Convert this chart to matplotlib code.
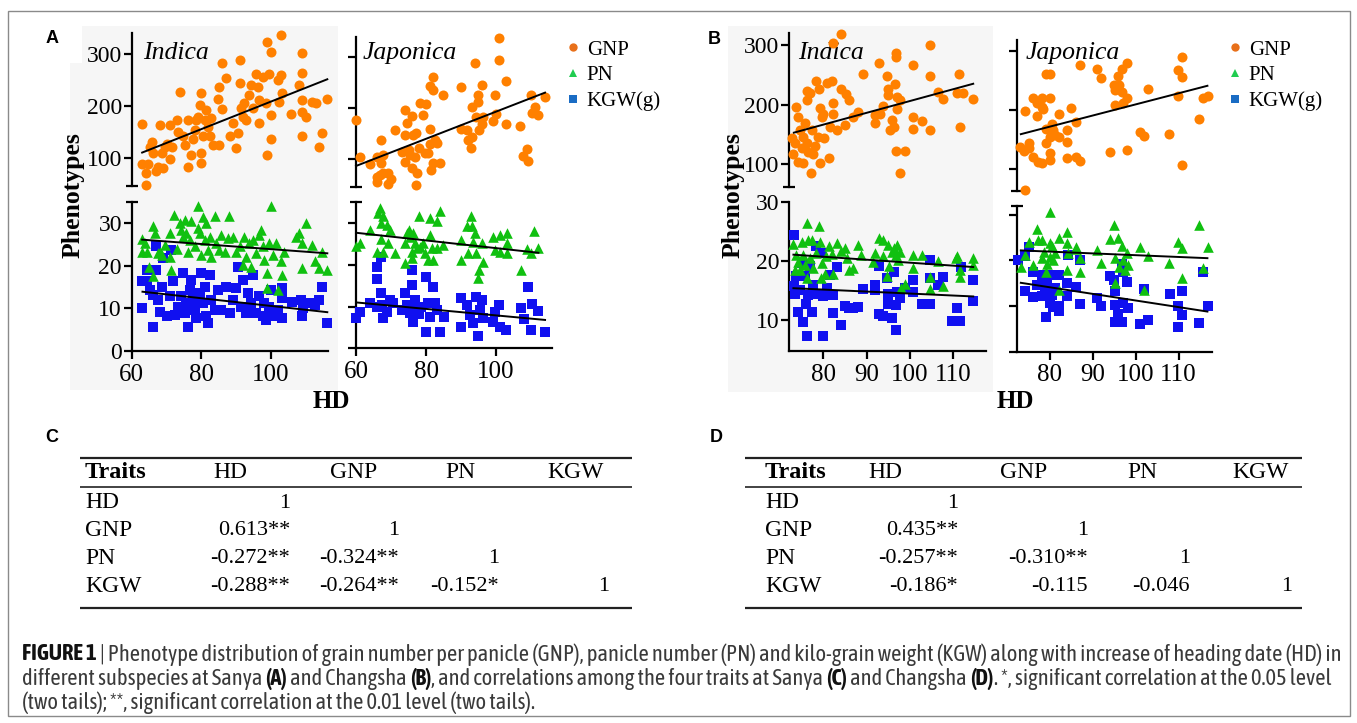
import matplotlib
matplotlib.use("Agg")
import matplotlib.pyplot as plt
import numpy as np
from matplotlib import font_manager
from matplotlib.patches import Rectangle
from matplotlib.lines import Line2D

plt.rcParams['font.family'] = 'Liberation Serif'

##############################################################################
# data (HD, value)
##############################################################################

# panel A (Sanya), indica
a_ind_gnp = [(63, 166), (63, 89), (64, 49), (64, 72), (64.8, 89), (65.7, 132), (65.2, 122), (66, 110),
             (67.1, 76), (67.6, 84), (68.1, 164), (68.6, 110), (69.5, 122), (69, 81), (70, 128), (71, 164),
             (71, 98), (71.7, 122), (72.9, 174), (73.8, 228), (73.3, 151), (74.8, 142), (75.2, 126),
             (76.2, 174), (76.2, 84), (77.1, 106), (77.6, 138), (78.1, 154), (78.6, 174), (79, 180),
             (79.5, 203), (80, 225), (80, 110), (80, 90), (80.5, 142), (81, 174), (81.4, 193), (81.9, 161),
             (82.4, 142), (82.9, 177), (83.3, 126), (84.8, 215), (85.2, 238), (85.2, 126), (86, 284),
             (86, 194), (87.1, 254), (88.1, 142), (89, 167), (90, 119), (90.5, 148), (91, 289), (91, 244),
             (91.4, 196), (91.9, 180), (92.4, 206), (92.9, 174), (93.8, 222), (94.3, 241), (94.8, 196),
             (95.7, 263), (96.2, 238), (96.7, 212), (96.7, 167), (97.6, 257), (98.6, 206), (98.8, 106),
             (99, 324), (99.5, 263), (100, 304), (100, 183), (100, 138), (101.9, 251), (102.4, 209),
             (103, 337), (103, 260), (103.3, 225), (105.7, 186), (108, 241), (108.8, 302), (109, 265),
             (109, 212), (109, 190), (109, 143), (110, 180), (111.9, 209), (112.9, 206), (113.8, 122),
             (114.8, 148), (116, 214)]
a_ind_pn = [(63, 26.2), (63, 23.3), (63.8, 25.3), (64.3, 23.3), (65, 19.6), (66, 29.3), (66, 17.6),
            (66.7, 27.6), (67.6, 22.9), (68.1, 23.3), (68.6, 22.5), (69.5, 24.9), (71, 27.6), (71.1, 22.1),
            (71.4, 19), (72.1, 31.9), (72.9, 23.9), (73.8, 30), (74.3, 28.4), (74.8, 26.8), (75.2, 30.6),
            (75.7, 27.6), (76.2, 23.3), (76.7, 26.1), (77.1, 30.4), (78.1, 24.5), (79, 33.9), (79, 28.8),
            (79.5, 27.6), (80, 22.5), (80.5, 31.5), (81, 26.1), (81.4, 30), (81.9, 23.7), (82.4, 26.8),
            (82.9, 22.1), (83.8, 31.7), (84.3, 25.3), (85.2, 23.7), (85.7, 27.2), (86.7, 23.3), (87.6, 26.4),
            (87.9, 31.7), (89, 26.8), (90, 23.3), (91, 24.5), (91.9, 20.2), (92.4, 26.8), (92.9, 22.1),
            (93.8, 25.3), (94.3, 19.8), (94.8, 26.1), (95.7, 22.9), (96.7, 27.2), (97.1, 28.4), (97.6, 24.5),
            (98.1, 21.4), (98.8, 18.2), (99, 14.7), (99.5, 25.3), (100, 33.9), (100.5, 22.5), (101.4, 25.3),
            (101.9, 14.3), (102.9, 21), (103.1, 17.8), (103.8, 23.3), (107.1, 26.8), (108, 27.6), (109, 25.3),
            (109, 19.4), (110, 30), (111.9, 24.9), (112.7, 21), (113.8, 19.4), (114.8, 23.3), (116, 19)]
a_ind_kgw = [(63.1, 10), (63, 16.3), (64.3, 16.3), (64.3, 19), (65.2, 14.3), (66.2, 13.1), (66.2, 5.6),
             (67.1, 24.5), (67.1, 19), (67.6, 12), (68.1, 9.2), (68.6, 15.1), (69, 21.8), (70, 8.1), (71, 12.8),
             (71.4, 23.7), (71.9, 16.3), (72.4, 8.5), (73.3, 10.4), (74.3, 12.8), (74.8, 18.2), (75.2, 8.8),
             (75.7, 11.2), (76.2, 5.7), (76.7, 14.3), (77.1, 16.7), (77.6, 12), (78.1, 9.6), (78.6, 7.7),
             (79.5, 13.5), (80, 18.2), (80.5, 11.2), (81, 15.1), (81.4, 8.1), (81.9, 6.5), (82.4, 17.8),
             (82.9, 12), (83.8, 9.6), (84.8, 14.3), (85.7, 9.6), (87.1, 15.1), (88.1, 8.8), (89, 12),
             (90, 14.7), (90.5, 19.8), (91.4, 10.4), (91.9, 16.7), (92.9, 8.8), (93.3, 13.5), (94.3, 11.2),
             (94.8, 17.8), (95.7, 8.8), (96.7, 12.8), (97.6, 8.1), (98.1, 11.2), (98.6, 7.3), (99.5, 10.4),
             (100, 14.3), (100.5, 8.1), (101.9, 9.6), (103.1, 12.4), (103.1, 14.7), (103.3, 7.7), (106.2, 11.6),
             (108.6, 12), (109, 8.1), (109.2, 10), (110.9, 11.2), (112.7, 10.8), (113.8, 12), (114.8, 15.1),
             (116, 6.5)]

# panel A (Sanya), japonica
a_jap_gnp = [(60, 176), (61.1, 105), (64, 91), (65.9, 105), (65.9, 66), (65.9, 56), (67, 138), (67, 92),
             (67.8, 109), (66.9, 69), (67.8, 73), (69.2, 73), (69.2, 52), (70.1, 61), (71.1, 158), (73, 115),
             (74, 197), (74, 147), (74, 95), (74.5, 170), (75, 118), (75.4, 109), (75.9, 184), (75.9, 83),
             (76.4, 147), (76.9, 105), (77.1, 151), (77.1, 50), (77.3, 73), (78.1, 123), (78.3, 209),
             (79, 187), (79.7, 112), (80, 208), (80.7, 113), (81, 160), (81.1, 130), (81.3, 79), (81, 242),
             (82.1, 260), (82.1, 235), (82.1, 92), (82.6, 138), (83, 131), (84, 92), (84.9, 226), (89.9, 240),
             (90.1, 160), (91.8, 157), (92.1, 138), (92.8, 123), (93, 201), (93, 144), (94, 288), (94.4, 182),
             (94.9, 212), (94.9, 225), (95.2, 158), (95.9, 245), (95.9, 169), (96.2, 182), (99, 175),
             (99.7, 225), (100.1, 188), (100.9, 294), (100.9, 336), (102.9, 253), (102.9, 169), (106.9, 164),
             (107.6, 106), (108.8, 121), (109, 97), (110, 225), (110.2, 191), (111.1, 201), (112.1, 186),
             (114, 222)]
a_jap_pn = [(60, 24.5), (61, 25.3), (64, 28.4), (65.9, 23.2), (66.4, 32.4), (66.9, 33.6), (67, 30), (67, 26.1),
            (67.6, 23.2), (67.8, 31.7), (68.8, 29.6), (69.2, 25.2), (69.7, 28.4), (71.1, 22.9), (74, 20.4),
            (74, 25.2), (74.5, 27.6), (75, 28.4), (75.4, 26.8), (75.9, 23.2), (75.9, 21.6), (76.4, 27.6),
            (76.9, 25.2), (77.3, 24), (78.1, 31.7), (78.3, 24.4), (79.2, 25.2), (79.7, 22.8), (80.7, 21.2),
            (81, 31.2), (81, 27.2), (81.6, 24), (81.9, 21.2), (83, 30.4), (83, 24), (84, 33), (84.9, 24.8),
            (89.9, 26), (89.9, 21.2), (91.6, 29.2), (92.1, 22.8), (92.8, 31.6), (93, 29.2), (93.5, 25.6),
            (94, 27.6), (94.4, 22.8), (94.9, 16.8), (95.2, 18.8), (95.9, 25.2), (96.2, 20.8), (99, 26.8),
            (99.7, 23.6), (101.1, 27.2), (101.1, 23.2), (103, 27.6), (103, 25.2), (103, 22.8), (107, 18.8),
            (108.8, 23.7), (110, 22.8), (110.9, 28.2), (112.1, 24)]
a_jap_kgw = [(60, 7.2), (61, 8.8), (64, 10.8), (65.9, 10), (65.9, 19.6), (66.1, 16.5), (67, 22), (67, 13.2),
             (67.3, 10.4), (67.8, 7.2), (68.8, 8.8), (69.7, 11.6), (70.7, 10.8), (73, 9.2), (74, 13.2),
             (74.5, 10.4), (75.4, 8.4), (75.9, 18.8), (75.9, 15.2), (76.4, 6.4), (76.9, 11.6), (77.3, 9.2),
             (78.1, 8.2), (78.7, 10), (80, 17), (80, 4), (80.7, 10.8), (81.1, 7.6), (82.1, 14.8), (82.6, 10.8),
             (83, 9.2), (84, 4), (85.1, 7.6), (89.9, 12), (89.9, 5.2), (91.6, 10.4), (92.6, 8), (93.5, 6),
             (94.4, 12.4), (94.9, 3), (95.4, 9.2), (95.9, 11.6), (96.2, 7.2), (99, 6.2), (99.7, 8.8),
             (100.9, 10.4), (101.1, 5.2), (102.9, 4.4), (107, 9.6), (108, 7), (109, 14.8), (110, 4.4),
             (110.2, 10.6), (112.1, 9), (114, 4)]

# panel B (Changsha), indica
b_ind_gnp = [(72.7, 144), (73.1, 118), (73.5, 135), (73.8, 196), (74.2, 180), (74.2, 104), (74.6, 158),
             (75, 127), (75.4, 146), (75.4, 102), (75.8, 169), (76.2, 223), (76.2, 208), (76.2, 135),
             (76.5, 121), (76.9, 220), (77.1, 86), (77.3, 158), (77.7, 118), (78.1, 130), (78.3, 239),
             (78.8, 146), (79.1, 227), (79.2, 194), (79.2, 102), (79.6, 180), (80, 185), (80.2, 144),
             (80.8, 236), (81.2, 110), (81.5, 163), (81.9, 239), (82.2, 202), (82.2, 185), (82.3, 303),
             (83.1, 158), (84, 318), (84, 227), (85, 166), (85.2, 218), (86, 208), (86.9, 179), (88.1, 187),
             (89.1, 251), (91.9, 183), (91.9, 169), (92.9, 269), (93.1, 185), (93.8, 197), (94.8, 248),
             (95, 227), (95, 216), (95.4, 158), (95.8, 174), (96.2, 163), (96.5, 235), (96.8, 286),
             (96.8, 280), (96.8, 123), (96.9, 213), (96.9, 192), (97.7, 86), (97.8, 208), (98.8, 123),
             (100.8, 266), (100.8, 180), (100.8, 159), (102.7, 172), (104.6, 300), (104.6, 248), (104.6, 158),
             (106.5, 222), (107.7, 209), (110.8, 220), (111.4, 251), (111.5, 163), (112.3, 220), (114.5, 209)]
b_ind_pn = [(73.1, 22.9), (73.5, 18.5), (73.8, 21.1), (74.2, 19.9), (74.6, 18.5), (75, 23.3), (75.4, 21.1),
            (75.8, 19.4), (76.2, 26.4), (76.2, 17.1), (76.5, 23.6), (76.9, 20.5), (77.3, 23.6), (77.7, 18.8),
            (78.3, 21.3), (79.1, 25.9), (79.2, 23.3), (79.4, 17.1), (79.8, 19.6), (80.4, 17.9), (80.6, 20.9),
            (81.2, 22.5), (81.9, 21.2), (82.3, 17.9), (83.1, 23), (84, 21.8), (85, 22.2), (85.4, 20.5),
            (86, 18.5), (86.9, 18.8), (87.9, 22.8), (88.8, 21.1), (91.5, 19.9), (91.9, 21.3), (92.9, 23.9),
            (93.8, 23.6), (93.8, 20.8), (94.8, 17.4), (95, 22.8), (95.2, 19.1), (95.8, 21.6), (96.3, 22.2),
            (96.8, 21.1), (96.9, 22.8), (97.3, 20.2), (97.7, 21.6), (97.9, 15.4), (98.8, 16.2), (100.8, 21.1),
            (100.8, 18.8), (102.7, 21.1), (104.6, 17.3), (104.6, 15.2), (106.5, 20.1), (107.7, 15.7),
            (110.6, 20.5), (110.8, 20.9), (111.5, 17.3), (111.5, 18.5), (114.5, 20.5), (114.5, 19.4)]
b_ind_kgw = [(73.2, 24.5), (73.2, 15.7), (73.5, 14.5), (73.7, 17.4), (74.2, 11.4), (74.6, 15.1), (75, 19.6),
             (75.4, 9.7), (75.8, 17.4), (76, 12.8), (76.2, 7.3), (76.5, 14.3), (76.9, 19.1), (77.3, 11.4),
             (77.7, 16), (78.3, 22.5), (78.8, 14.5), (79.4, 21.3), (80, 14), (80, 7.2), (80.8, 15.4),
             (81.5, 17.7), (82.2, 14.3), (82.2, 11.2), (83.1, 19), (84, 9.1), (85, 12.4), (86, 12), (86.9, 12),
             (88.1, 12.2), (89.1, 15.2), (91.9, 16), (91.9, 15.1), (92.9, 11), (93.8, 10.6), (92.9, 19.2),
             (94.8, 17.1), (95, 12.8), (95, 14.5), (95.8, 10.3), (96.2, 18.2), (96.8, 12.6), (96.8, 8.3),
             (96.9, 14.8), (97.8, 13.7), (98.8, 15.4), (100.8, 16.8), (100.8, 14.8), (102.7, 12.8),
             (104.6, 20.2), (104.6, 12.8), (104.6, 17.1), (106.5, 16), (107.7, 17.3), (109.6, 9.9), (110.8, 12),
             (111.5, 9.9), (111.7, 19), (114.5, 16.8), (114.5, 13.2)]

# panel B (Changsha), japonica
b_jap_gnp = [(73, 138), (73.9, 131), (74.2, 199), (74.2, 64), (75.2, 144), (75.2, 135), (76.1, 221),
             (76.1, 120), (77, 211), (77, 189), (77.3, 112), (78.1, 221), (78.1, 205), (78.1, 110), (78.3, 201),
             (79.1, 261), (79.1, 167), (79.1, 144), (80, 261), (80, 220), (80, 166), (80, 154), (80, 127),
             (80, 115), (80.4, 177), (80.8, 166), (81.2, 158), (82.2, 193), (82.2, 155), (83.9, 166),
             (83.9, 146), (83.9, 118), (85, 203), (86.1, 180), (86.1, 121), (87, 276), (87, 114), (90.9, 269),
             (92, 254), (94, 128), (94.9, 242), (95.2, 234), (95.2, 208), (95.9, 258), (96.2, 242), (96.7, 269),
             (96.9, 231), (97.1, 212), (97.9, 279), (97.9, 220), (97.9, 133), (101, 163), (101.9, 156),
             (102.9, 236), (107.8, 160), (109.9, 268), (109.9, 224), (110.7, 290), (110.8, 256), (110.8, 107),
             (114.8, 184), (115.7, 221), (116.9, 223)]
b_jap_pn = [(73.2, 18.6), (74.2, 21.2), (75.2, 24.1), (76.1, 19), (77, 26.8), (77.3, 24.5), (78.1, 24.5),
            (78.1, 20.5), (78.5, 21.9), (79.1, 17.5), (79.2, 19.2), (80, 30.7), (80, 23.8), (80, 20.8),
            (80.4, 23.2), (80.8, 20.1), (81.2, 21.6), (82.2, 24.9), (82.2, 13.5), (83.9, 26.3), (83.9, 23.8),
            (83.9, 17.9), (84.3, 21.6), (86.1, 23), (86.1, 22.5), (87, 17.5), (87, 20.5), (90.9, 22.3),
            (92, 19.5), (94, 24.7), (94.9, 27.8), (95.2, 20.5), (95.2, 15.1), (95.9, 24.9), (96.2, 18.6),
            (96.9, 23.2), (97.1, 20), (97.5, 17.9), (97.9, 21.6), (98.3, 19), (101, 23), (101.9, 13.5),
            (102.9, 21), (107.8, 19.4), (109.9, 24.1), (110.8, 22.7), (110.8, 16.1), (114.8, 27.8),
            (115.7, 18.3), (116.9, 22.9)]
b_jap_kgw = [(72.6, 20), (74.2, 21), (74.2, 13.4), (75.2, 22.9), (76.1, 17.5), (76.1, 11.9), (77, 14.6),
             (78.1, 16.8), (78.1, 12.2), (78.8, 13.5), (79.1, 7.5), (79.4, 15.3), (80, 16.8), (80, 10.6),
             (80.4, 12.4), (80.8, 9.9), (81.2, 13.9), (82, 10), (82.2, 16.8), (82.2, 9), (83.9, 15),
             (83.9, 12.2), (84.3, 21.2), (86.1, 14.1), (87, 20), (87, 10.4), (90.9, 11.7), (92, 10), (94, 16.6),
             (94.9, 15.7), (95.2, 13.2), (95.2, 10.2), (95.2, 6.6), (95.9, 8.2), (96.7, 6.6), (96.9, 19.2),
             (97.1, 17.5), (97.1, 10.7), (97.9, 15.3), (98.1, 9.5), (101, 6), (101.9, 13.7), (102.9, 6.9),
             (108, 12.6), (109.9, 10), (109.9, 5.5), (110.8, 13.2), (110.8, 8), (114.8, 6.3), (115.7, 17.5),
             (116.9, 10)]

# linear trend lines: (HD start, HD end), (value start, value end)
a_ind_fit = {'gnp': ((63, 116.2), (111, 252)), 'pn': ((63, 116.2), (26.1, 22.9)), 'kgw': ((63.1, 116.2), (13.9, 9.1))}
a_jap_fit = {'gnp': ((60, 114), (87, 230)), 'pn': ((60, 112.1), (27.7, 22.9)), 'kgw': ((60, 114), (11, 6.8))}
b_ind_fit = {'gnp': ((73.2, 114.6), (153, 235)), 'pn': ((73.1, 114.6), (21.1, 19)), 'kgw': ((73.1, 114.6), (15.4, 14))}
b_jap_fit = {'gnp': ((73.2, 116.7), (159, 241)), 'pn': ((73.2, 116.7), (22.2, 20.5)), 'kgw': ((73.2, 116.7), (15.1, 8.8))}

series_names = ['GNP', 'PN', 'KGW(g)']

# correlation tables
table_cols = ['Traits', 'HD', 'GNP', 'PN', 'KGW']
table_rows = ['HD', 'GNP', 'PN', 'KGW']
corr_sanya = [['1', '', '', ''],
              ['0.613**', '1', '', ''],
              ['-0.272**', '-0.324**', '1', ''],
              ['-0.288**', '-0.264**', '-0.152*', '1']]
corr_changsha = [['1', '', '', ''],
                 ['0.435**', '1', '', ''],
                 ['-0.257**', '-0.310**', '1', ''],
                 ['-0.186*', '-0.115', '-0.046', '1']]

caption_lines = [
    [("FIGURE 1", True), (" | Phenotype distribution of grain number per panicle (GNP), panicle number (PN) and "
                          "kilo-grain weight (KGW) along with increase of heading date (HD) in", False)],
    [("different subspecies at Sanya ", False), ("(A)", True), (" and Changsha ", False), ("(B)", True),
     (", and correlations among the four traits at Sanya ", False), ("(C)", True), (" and Changsha ", False),
     ("(D)", True), (". *, significant correlation at the 0.05 level", False)],
    [("(two tails); **, significant correlation at the 0.01 level (two tails).", False)],
]

##############################################################################
# figure
##############################################################################

W, H = 1357, 723
fig = plt.figure(figsize=(W / 100, H / 100), dpi=100)
bg = fig.add_axes([0, 0, 1, 1], zorder=0)
bg.set_xlim(0, W)
bg.set_ylim(H, 0)
bg.axis('off')

ORANGE, GREEN, BLUE = '#ff8000', '#10c010', '#1010f0'
SANS = 'Liberation Sans'

# frame and grey plot backgrounds
bg.add_patch(Rectangle((7.5, 10.5), 1342, 705.5, fill=False, ec='#8a8a8a', lw=1))
bg.add_patch(Rectangle((82, 26), 256, 364, fc='#f6f6f6', ec='none'))
bg.add_patch(Rectangle((70, 63), 12, 327, fc='#f6f6f6', ec='none'))
bg.add_patch(Rectangle((728, 26), 265, 366, fc='#f6f6f6', ec='none'))


def px_axes(l, r, t, b):
    ax = fig.add_axes([l / W, 1 - b / H, (r - l) / W, (b - t) / H], zorder=2)
    ax.patch.set_alpha(0)
    for s in ['top', 'right']:
        ax.spines[s].set_visible(False)
    for s in ['left', 'bottom']:
        ax.spines[s].set_linewidth(1.6)
    ax.tick_params(direction='out', length=6, width=1.6, pad=1, labelsize=17)
    return ax


def scatter_panel(box_top, box_bot, xlim, ylim_top, ylim_bot, yt_top, yt_bot, xt,
                  gnp, pn, kgw, fit, labels):
    top = px_axes(*box_top)
    bot = px_axes(*box_bot)
    top.set_xlim(*xlim)
    bot.set_xlim(*xlim)
    top.set_ylim(*ylim_top)
    bot.set_ylim(*ylim_bot)

    g = np.array(gnp).T
    p = np.array(pn).T
    k = np.array(kgw).T
    top.scatter(g[0], g[1], s=52, marker='o', color=ORANGE, lw=0, clip_on=False, zorder=3)
    bot.scatter(k[0], k[1], s=48, marker='s', color=BLUE, lw=0, clip_on=False, zorder=3)
    bot.scatter(p[0], p[1], s=58, marker='^', color=GREEN, lw=0, clip_on=False, zorder=4)
    top.plot(*fit['gnp'], color='k', lw=1.4, zorder=5, clip_on=False)
    bot.plot(*fit['pn'], color='k', lw=1.4, zorder=5, clip_on=False)
    bot.plot(*fit['kgw'], color='k', lw=1.4, zorder=5, clip_on=False)

    top.spines['bottom'].set_visible(False)
    top.set_xticks([])
    top.set_yticks(yt_top)
    bot.set_yticks(yt_bot)
    bot.set_xticks(xt)
    bot.tick_params(axis='x', pad=3, labelsize=18)
    # caps at the axis break
    top.set_yticks([ylim_top[0]], minor=True)
    bot.set_yticks([ylim_bot[1]], minor=True)
    for a in (top, bot):
        a.tick_params(which='minor', direction='inout', length=8, width=1.6)
        if not labels:
            a.tick_params(axis='y', labelleft=False)
    return top, bot


# panel A
scatter_panel((131.7, 328, 33.3, 185.7), (131.7, 328, 201.7, 351), (60, 116.4), (47.3, 340.4), (0, 35),
              [100, 200, 300], [0, 10, 20, 30], [60, 80, 100], a_ind_gnp, a_ind_pn, a_ind_kgw, a_ind_fit, True)
scatter_panel((356, 551.7, 36.7, 186.7), (356, 551.7, 202.3, 348.3), (60, 115.9), (46.6, 339), (0, 35),
              [100, 200, 300], [0, 10, 20, 30], [60, 80, 100], a_jap_gnp, a_jap_pn, a_jap_kgw, a_jap_fit, False)
# panel B
scatter_panel((789, 986, 33.3, 186.7), (789, 986, 202.3, 351), (72.08, 117.55), (62.4, 319.6), (4.73, 30),
              [100, 200, 300], [10, 20, 30], [80, 90, 100, 110], b_ind_gnp, b_ind_pn, b_ind_kgw, b_ind_fit, True)
scatter_panel((1016.7, 1212.3, 40, 190.7), (1016.7, 1212.3, 205.7, 351.7), (72.24, 117.84), (63.2, 318.6),
              (0, 32), [100, 200, 300], [0, 10, 20, 30], [80, 90, 100, 110], b_jap_gnp, b_jap_pn, b_jap_kgw,
              b_jap_fit, False)

# subspecies names, axis titles
for x, y, s in [(143, 53, 'Indica'), (363, 53, 'Japonica'), (798, 53, 'Indica'), (1026, 53, 'Japonica')]:
    bg.text(x, y, s, fontsize=18.5, style='italic', ha='left', va='center')
for x in (73, 733):
    bg.text(x, 195, 'Phenotypes', fontsize=18.5, fontweight='bold', rotation=90, ha='center', va='center')
for x in (331, 1015):
    bg.text(x, 401, 'HD', fontsize=18, fontweight='bold', ha='center', va='center')

# legends
handles = [Line2D([], [], ls='none', marker='o', ms=6, mew=0, color='#e8701a'),
           Line2D([], [], ls='none', marker='^', ms=6, mew=0, color='#20cc50'),
           Line2D([], [], ls='none', marker='s', ms=5.5, mew=0, color='#1a6cc4')]
for x in (567, 1229):
    fig.legend(handles, series_names, loc='upper left', bbox_to_anchor=(x / W, 1 - 40 / H), frameon=False,
               fontsize=15, handlelength=0.6, handletextpad=0.35, labelspacing=0.3, borderpad=0,
               borderaxespad=0)

# panel letters
for x, y, s in [(52, 38.5, 'A'), (714.5, 39, 'B'), (52, 437, 'C'), (716, 437, 'D')]:
    bg.text(x, y, s, family=SANS, fontsize=13, fontweight='bold', ha='center', va='center')


# correlation tables
def draw_table(x0, x1, head_x, val_right, values):
    bg.hlines(457.5, x0, x1, color='#222222', lw=1.6)
    bg.hlines(487, x0, x1, color='#222222', lw=1.2)
    bg.hlines(608, x0, x1, color='#222222', lw=1.6)
    bg.text(head_x[0], 472, table_cols[0], fontsize=17.5, fontweight='bold', ha='left', va='center')
    for hx, name in zip(head_x[1:], table_cols[1:]):
        bg.text(hx, 472, name, fontsize=17, ha='left', va='center')
    for i, (row, vals) in enumerate(zip(table_rows, values)):
        y = 503 + i * 27.7
        bg.text(head_x[0], y, row, fontsize=17, ha='left', va='center')
        for xr, v in zip(val_right, vals):
            if v:
                bg.text(xr, y, v, fontsize=16, ha='right', va='center')


draw_table(80, 632, [85, 213, 330, 445, 547], [290, 399, 499, 609], corr_sanya)
draw_table(745, 1302, [765, 868, 1000, 1127, 1232], [958, 1088, 1190, 1292], corr_changsha)


# caption, in a condensed sans face when both weights of one are installed
def is_bold(f):
    return f.weight in (700, 'bold')


def is_regular(f):
    return f.weight in (400, 'normal', 'regular', 'book')


cap_files = None
cands = [f for f in font_manager.fontManager.ttflist
         if f.style == 'normal' and 'Mono' not in f.name and 'Serif' not in f.name
         and ('Narrow' in f.name or 'ondensed' in str(f.stretch) or 'Condensed' in f.fname)]
for fam in sorted({f.name for f in cands}):
    reg = [f.fname for f in cands if f.name == fam and is_regular(f)]
    bld = [f.fname for f in cands if f.name == fam and is_bold(f)]
    if reg and bld:
        cap_files = (reg[0], bld[0])
        break


def cap_props(bold, size):
    if cap_files:
        return dict(fontproperties=font_manager.FontProperties(fname=cap_files[1 if bold else 0], size=size))
    return dict(family=SANS, fontsize=size, fontweight='bold' if bold else 'normal')


renderer = fig.canvas.get_renderer()


def line_width(segs, size):
    w = 0
    for txt, bold in segs:
        t = bg.text(0, 0, txt, **cap_props(bold, size))
        w += t.get_window_extent(renderer).width
        t.remove()
    return w


cap_size = 12 * min(1318 / line_width(caption_lines[0], 12), 1314 / line_width(caption_lines[1], 12))
for segs, y in zip(caption_lines, (660.5, 685, 708.5)):
    x = 22
    for txt, bold in segs:
        t = bg.text(x, y, txt, color='#111111' if bold else '#3a3a3a', ha='left', va='baseline',
                    **cap_props(bold, cap_size))
        x += t.get_window_extent(renderer).width

fig.savefig('out.png', dpi=100)
